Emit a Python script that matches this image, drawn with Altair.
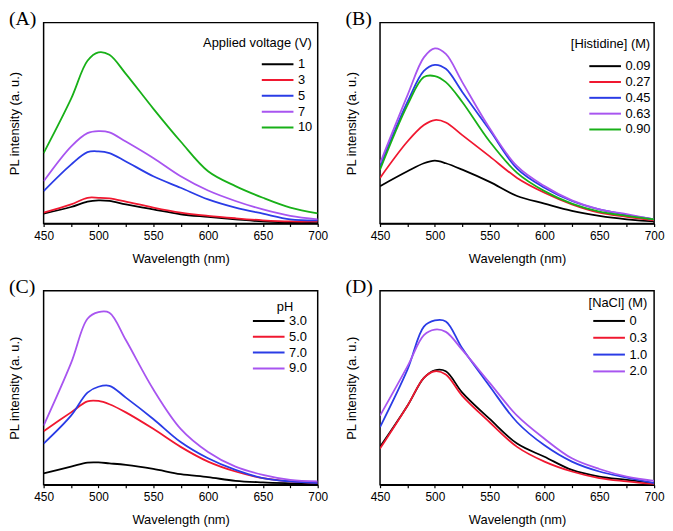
import altair as alt
import pandas as pd

wl = [450, 475, 490, 500, 510, 525, 550, 575, 600, 625, 650, 675, 700]

# (A) Applied voltage (V)
a_labels = ["1", "3", "5", "7", "10"]
a_1 = [0.049, 0.082, 0.109, 0.115, 0.112, 0.095, 0.070, 0.046, 0.033, 0.021, 0.010, 0.005, 0.002]
a_3 = [0.054, 0.095, 0.128, 0.128, 0.125, 0.109, 0.079, 0.054, 0.038, 0.026, 0.016, 0.010, 0.010]
a_5 = [0.161, 0.293, 0.355, 0.359, 0.350, 0.309, 0.235, 0.178, 0.120, 0.079, 0.049, 0.021, 0.016]
a_7 = [0.210, 0.383, 0.450, 0.460, 0.454, 0.408, 0.326, 0.235, 0.164, 0.112, 0.070, 0.038, 0.021]
a_10 = [0.350, 0.620, 0.810, 0.852, 0.840, 0.745, 0.572, 0.408, 0.260, 0.186, 0.128, 0.079, 0.050]

# (B) [Histidine] (M)
b_labels = ["0.09", "0.27", "0.45", "0.63", "0.90"]
b_009 = [0.186, 0.260, 0.300, 0.313, 0.300, 0.268, 0.207, 0.137, 0.099, 0.063, 0.038, 0.021, 0.010]
b_027 = [0.227, 0.408, 0.490, 0.515, 0.503, 0.440, 0.334, 0.227, 0.153, 0.095, 0.054, 0.033, 0.016]
b_045 = [0.285, 0.605, 0.760, 0.790, 0.770, 0.655, 0.465, 0.273, 0.178, 0.112, 0.070, 0.043, 0.021]
b_063 = [0.300, 0.638, 0.827, 0.872, 0.844, 0.704, 0.474, 0.285, 0.186, 0.115, 0.070, 0.046, 0.021]
b_090 = [0.268, 0.589, 0.729, 0.734, 0.704, 0.605, 0.408, 0.252, 0.161, 0.099, 0.059, 0.038, 0.020]

# (C) pH
c_labels = ["3.0", "5.0", "7.0", "9.0"]
c_3 = [0.059, 0.093, 0.114, 0.115, 0.110, 0.102, 0.081, 0.054, 0.039, 0.020, 0.012, 0.007, 0.003]
c_5 = [0.276, 0.373, 0.430, 0.432, 0.415, 0.373, 0.288, 0.195, 0.119, 0.068, 0.034, 0.017, 0.008]
c_7 = [0.212, 0.356, 0.475, 0.505, 0.510, 0.449, 0.339, 0.220, 0.136, 0.076, 0.034, 0.017, 0.008]
c_9 = [0.305, 0.627, 0.856, 0.890, 0.887, 0.746, 0.492, 0.288, 0.169, 0.093, 0.051, 0.025, 0.017]

# (D) [NaCl] (M)
d_labels = ["0", "0.3", "1.0", "2.0"]
d_0 = [0.195, 0.407, 0.551, 0.590, 0.585, 0.475, 0.339, 0.212, 0.144, 0.076, 0.042, 0.025, 0.008]
d_03 = [0.186, 0.407, 0.551, 0.585, 0.568, 0.458, 0.322, 0.195, 0.119, 0.068, 0.034, 0.017, 0.003]
d_1 = [0.297, 0.593, 0.815, 0.847, 0.842, 0.703, 0.508, 0.322, 0.203, 0.119, 0.068, 0.037, 0.008]
d_2 = [0.356, 0.610, 0.771, 0.800, 0.788, 0.695, 0.525, 0.356, 0.237, 0.136, 0.081, 0.042, 0.020]

BLACK, RED, BLUE, PURPLE, GREEN = "#000000", "#f01830", "#2a3ce6", "#a855f0", "#18b018"


def panel(letter, legend_title, labels, series, colors, height,
          leg_offset, leg_line, leg_title_pad, leg_row_pad, leg_anchor="end"):
    rows = []
    for lab, vals in zip(labels, series):
        for w, v in zip(wl, vals):
            rows.append({"wl": w, "I": v, "s": lab})
    df = pd.DataFrame(rows)
    title_text = ["", legend_title] if leg_line > 0 else legend_title
    leg_kwargs = dict(
        title=title_text, orient="top-right", offset=leg_offset,
        titleAnchor=leg_anchor, titlePadding=leg_title_pad,
        symbolType="M-3.2,0H3.2", symbolSize=100, symbolStrokeWidth=2,
        labelOffset=14, rowPadding=leg_row_pad,
    )
    if leg_line > 0:
        leg_kwargs["titleLineHeight"] = leg_line
    return alt.Chart(
        df,
        title=alt.TitleParams(
            f"({letter})", anchor="start", frame="bounds", offset=-6,
            font="Liberation Serif", fontSize=20, fontWeight="normal", color="black",
        ),
    ).mark_line(strokeWidth=1.8, interpolate="catmull-rom", clip=True).encode(
        x=alt.X(
            "wl:Q",
            scale=alt.Scale(domain=[450, 700], nice=False),
            axis=alt.Axis(
                values=list(range(450, 701, 25)),
                labelExpr="datum.value % 50 == 0 ? datum.label : ''",
                labelFlush=False, labelOverlap=False,
                title="Wavelength (nm)",
            ),
        ),
        y=alt.Y(
            "I:Q",
            scale=alt.Scale(domain=[0, 1], nice=False),
            axis=alt.Axis(labels=False, ticks=False, domain=False,
                          title="PL intensity (a. u.)", titlePadding=22),
        ),
        color=alt.Color(
            "s:N",
            sort=labels,
            scale=alt.Scale(domain=labels, range=colors),
            legend=alt.Legend(**leg_kwargs),
        ),
    ).properties(width=277, height=height)


pa = panel("A", "Applied voltage (V)", a_labels, [a_1, a_3, a_5, a_7, a_10],
           [BLACK, RED, BLUE, PURPLE, GREEN], 203, 5, 9.5, 8, 2)
pb = panel("B", "[Histidine] (M)", b_labels, [b_009, b_027, b_045, b_063, b_090],
           [BLACK, RED, BLUE, PURPLE, GREEN], 203, 3, 12.5, 9, 2)
pc = panel("C", "pH", c_labels, [c_3, c_5, c_7, c_9], [BLACK, RED, BLUE, PURPLE],
           196, 10, 0, 1, 2, "middle")
pd_ = panel("D", "[NaCl] (M)", d_labels, [d_0, d_03, d_1, d_2], [BLACK, RED, BLUE, PURPLE],
            196, 6, 0, 5, 3)

top = alt.hconcat(pa, pb, spacing=16).resolve_scale(color="independent").resolve_legend(color="independent")
bottom = alt.hconcat(pc, pd_, spacing=16).resolve_scale(color="independent").resolve_legend(color="independent")

chart = alt.vconcat(top, bottom, spacing=10).resolve_scale(
    color="independent"
).resolve_legend(color="independent").properties(
    padding={"left": 0, "top": -3, "right": 0, "bottom": 0},
).configure_view(
    stroke="black", strokeWidth=1.5,
).configure_axis(
    domainColor="black", domainWidth=1.5, tickColor="black", tickWidth=1.2, tickSize=3,
    labelColor="black", titleColor="black",
    labelFont="Liberation Sans", titleFont="Liberation Sans",
    labelFontSize=12, titleFontSize=13, titleFontWeight="normal",
    labelPadding=4, titlePadding=11, grid=False,
).configure_legend(
    labelFont="Liberation Sans", titleFont="Liberation Sans",
    labelFontSize=13, titleFontSize=13, titleFontWeight="normal",
    labelColor="black", titleColor="black", padding=0,
)

chart.save("out.html", embed_options={"renderer": "svg", "actions": False})
